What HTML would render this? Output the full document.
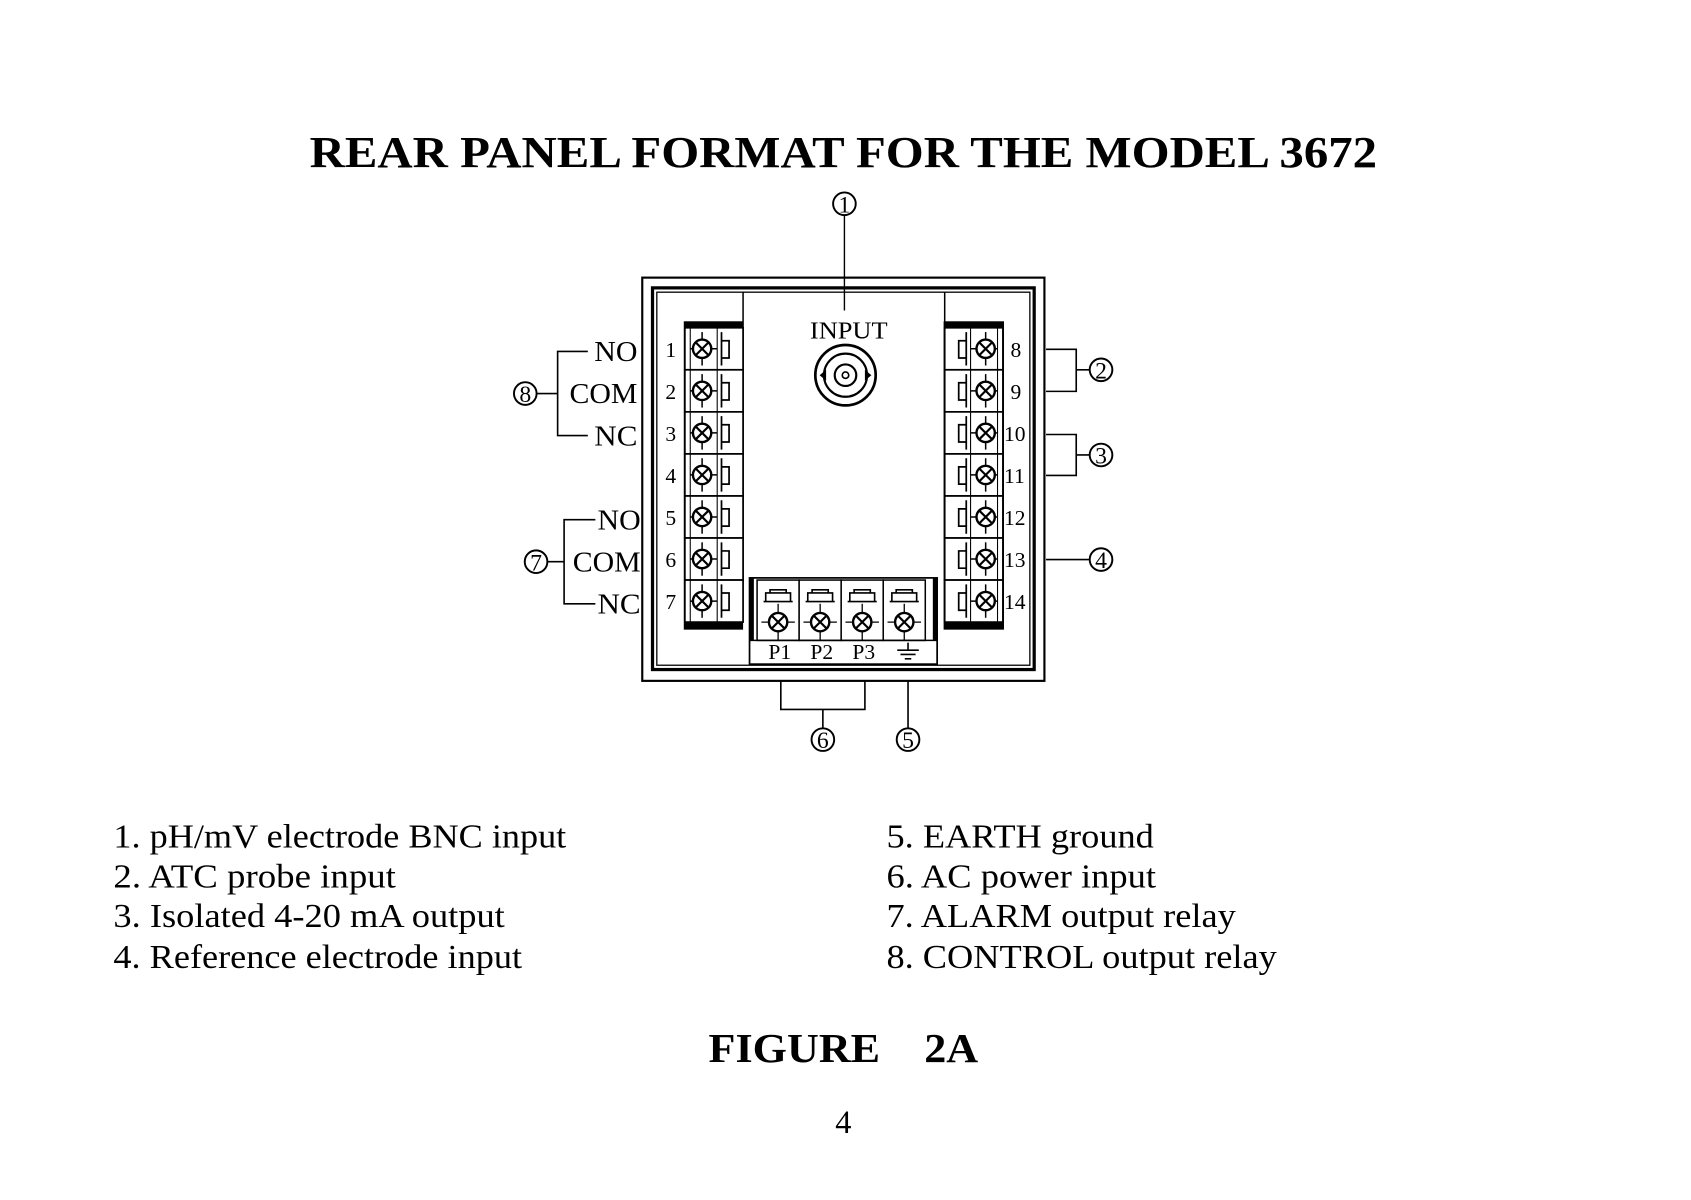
<!DOCTYPE html>
<html><head><meta charset="utf-8"><style>
html,body{margin:0;padding:0;background:#fff;}
svg{display:block}
text{font-family:"Liberation Serif",serif;fill:#000}
</style></head><body>
<svg width="1691" height="1200" viewBox="0 0 1568 1113" xmlns="http://www.w3.org/2000/svg">
<defs>
<g id="scr"><circle cx="0" cy="0" r="8.5" fill="#fff" stroke="#000" stroke-width="2.2"/><path d="M-5.5,-5.5L5.5,5.5M5.5,-5.5L-5.5,5.5" stroke="#000" stroke-width="2"/></g>
<g id="lc"><rect x="0" y="0" width="54" height="39" fill="#fff" stroke="#000" stroke-width="1.6"/>
<line x1="5" y1="0" x2="5" y2="39" stroke="#000" stroke-width="1"/>
<line x1="30" y1="0" x2="30" y2="39" stroke="#000" stroke-width="1"/>
<line x1="5" y1="19.5" x2="30" y2="19.5" stroke="#000" stroke-width="1.4"/>
<line x1="16" y1="4" x2="16" y2="35" stroke="#000" stroke-width="1.4"/>
<use href="#scr" x="16" y="19.5"/>
<path d="M34,4 V35 M34,12 H41 V28 H34" fill="none" stroke="#000" stroke-width="1.6"/></g>
<g id="rc"><rect x="0" y="0" width="54" height="39" fill="#fff" stroke="#000" stroke-width="1.6"/>
<line x1="49" y1="0" x2="49" y2="39" stroke="#000" stroke-width="1"/>
<line x1="24" y1="0" x2="24" y2="39" stroke="#000" stroke-width="1"/>
<line x1="24" y1="19.5" x2="49" y2="19.5" stroke="#000" stroke-width="1.4"/>
<line x1="38" y1="4" x2="38" y2="35" stroke="#000" stroke-width="1.4"/>
<use href="#scr" x="38" y="19.5"/>
<path d="M20,4 V35 M20,12 H13 V28 H20" fill="none" stroke="#000" stroke-width="1.6"/></g>
<g id="bc"><rect x="0" y="0" width="39" height="56" fill="#fff" stroke="#000" stroke-width="1.4"/>
<path d="M6,20 H33 M8,20 V12 H31 V20 M12,12 V9 H27 V12" fill="none" stroke="#000" stroke-width="1.5"/>
<line x1="4" y1="39" x2="35" y2="39" stroke="#000" stroke-width="1.2"/>
<line x1="19.5" y1="22" x2="19.5" y2="56" stroke="#000" stroke-width="1.2"/>
<use href="#scr" x="19.5" y="39"/></g>
<g id="cn"><circle r="10.5" fill="#fff" stroke="#000" stroke-width="1.8"/></g>
</defs>

<text x="287" y="155" font-size="41" font-weight="bold" textLength="990" lengthAdjust="spacingAndGlyphs">REAR PANEL FORMAT FOR THE MODEL 3672</text>

<rect x="595.5" y="257.5" width="373" height="374" fill="#fff" stroke="#000" stroke-width="2"/>
<rect x="605" y="267" width="354" height="354" fill="none" stroke="#000" stroke-width="3"/>
<rect x="609" y="271" width="346" height="346" fill="none" stroke="#000" stroke-width="1.2"/>
<line x1="689" y1="271" x2="689" y2="540" stroke="#000" stroke-width="1.4"/>
<line x1="876" y1="271" x2="876" y2="540" stroke="#000" stroke-width="1.4"/>

<line x1="783" y1="200" x2="783" y2="288" stroke="#000" stroke-width="1.3"/>
<use href="#cn" x="783" y="189"/><text x="783" y="197" font-size="22" text-anchor="middle">1</text>
<text x="751" y="314" font-size="23" textLength="72" lengthAdjust="spacingAndGlyphs">INPUT</text>
<circle cx="784" cy="348" r="28" fill="#fff" stroke="#000" stroke-width="2.5"/>
<circle cx="784" cy="348" r="20" fill="none" stroke="#000" stroke-width="2"/>
<circle cx="784" cy="348" r="10" fill="none" stroke="#000" stroke-width="2"/>
<circle cx="784" cy="348" r="3" fill="none" stroke="#000" stroke-width="1.5"/>
<path d="M760,348 l6,-5 v10z M808,348 l-6,-5 v10z" fill="#000"/>

<rect x="634" y="298" width="55" height="286" fill="#000"/>
<use href="#lc" x="635" y="304"/><use href="#lc" x="635" y="343"/><use href="#lc" x="635" y="382"/><use href="#lc" x="635" y="421"/><use href="#lc" x="635" y="460"/><use href="#lc" x="635" y="499"/><use href="#lc" x="635" y="538"/>
<g font-size="20" text-anchor="middle">
<text x="622" y="331">1</text><text x="622" y="370">2</text><text x="622" y="409">3</text><text x="622" y="448">4</text><text x="622" y="487">5</text><text x="622" y="526">6</text><text x="622" y="565">7</text>
</g>
<rect x="875" y="298" width="56" height="286" fill="#000"/>
<use href="#rc" x="876" y="304"/><use href="#rc" x="876" y="343"/><use href="#rc" x="876" y="382"/><use href="#rc" x="876" y="421"/><use href="#rc" x="876" y="460"/><use href="#rc" x="876" y="499"/><use href="#rc" x="876" y="538"/>
<g font-size="20">
<text x="937" y="331">8</text><text x="937" y="370">9</text><text x="931" y="409">10</text><text x="931" y="448">11</text><text x="931" y="487">12</text><text x="931" y="526">13</text><text x="931" y="565">14</text>
</g>

<rect x="695" y="536" width="174" height="80" fill="#fff" stroke="#000" stroke-width="1.6"/>
<rect x="695" y="536" width="4" height="58" fill="#000"/><rect x="865" y="536" width="4" height="58" fill="#000"/>
<use href="#bc" x="702" y="538"/><use href="#bc" x="741" y="538"/><use href="#bc" x="780" y="538"/><use href="#bc" x="819" y="538"/>
<line x1="695" y1="594" x2="869" y2="594" stroke="#000" stroke-width="1.4"/>
<g font-size="20" text-anchor="middle"><text x="723" y="611">P1</text><text x="762" y="611">P2</text><text x="801" y="611">P3</text></g>
<path d="M842,596 V603 M832,603 H852 M835,607 H849 M839,611 H845" stroke="#000" stroke-width="1.5"/>

<g font-size="26">
<text x="551" y="335" textLength="40" lengthAdjust="spacingAndGlyphs">NO</text>
<text x="528" y="374" textLength="63" lengthAdjust="spacingAndGlyphs">COM</text>
<text x="551" y="413" textLength="40" lengthAdjust="spacingAndGlyphs">NC</text>
<text x="554" y="491" textLength="40" lengthAdjust="spacingAndGlyphs">NO</text>
<text x="531" y="530" textLength="63" lengthAdjust="spacingAndGlyphs">COM</text>
<text x="554" y="569" textLength="40" lengthAdjust="spacingAndGlyphs">NC</text>
</g>
<path d="M545,326 H517 V404 H545 M517,365 H498" fill="none" stroke="#000" stroke-width="1.5"/>
<use href="#cn" x="487" y="365"/><text x="487" y="373" font-size="22" text-anchor="middle">8</text>
<path d="M552,482 H523 V560 H552 M523,521 H508" fill="none" stroke="#000" stroke-width="1.5"/>
<use href="#cn" x="497" y="521"/><text x="497" y="529" font-size="22" text-anchor="middle">7</text>

<path d="M970,324 H998 V363 H970 M998,343 H1011" fill="none" stroke="#000" stroke-width="1.5"/>
<use href="#cn" x="1021" y="343"/><text x="1021" y="351" font-size="22" text-anchor="middle">2</text>
<path d="M970,403 H998 V441 H970 M998,422 H1011" fill="none" stroke="#000" stroke-width="1.5"/>
<use href="#cn" x="1021" y="422"/><text x="1021" y="430" font-size="22" text-anchor="middle">3</text>
<path d="M970,519 H1011" stroke="#000" stroke-width="1.5"/>
<use href="#cn" x="1021" y="519"/><text x="1021" y="527" font-size="22" text-anchor="middle">4</text>

<path d="M724,631 V658 H802 V631 M763,658 V675" fill="none" stroke="#000" stroke-width="1.5"/>
<use href="#cn" x="763" y="686"/><text x="763" y="694" font-size="22" text-anchor="middle">6</text>
<path d="M842,631 V675" stroke="#000" stroke-width="1.5"/>
<use href="#cn" x="842" y="686"/><text x="842" y="694" font-size="22" text-anchor="middle">5</text>

<g font-size="31">
<text x="105" y="786" textLength="420" lengthAdjust="spacingAndGlyphs">1. pH/mV electrode BNC input</text>
<text x="105" y="823" textLength="262" lengthAdjust="spacingAndGlyphs">2. ATC probe input</text>
<text x="105" y="860" textLength="363" lengthAdjust="spacingAndGlyphs">3. Isolated 4-20 mA output</text>
<text x="105" y="898" textLength="379" lengthAdjust="spacingAndGlyphs">4. Reference electrode input</text>
<text x="822" y="786" textLength="248" lengthAdjust="spacingAndGlyphs">5. EARTH ground</text>
<text x="822" y="823" textLength="250" lengthAdjust="spacingAndGlyphs">6. AC power input</text>
<text x="822" y="860" textLength="324" lengthAdjust="spacingAndGlyphs">7. ALARM output relay</text>
<text x="822" y="898" textLength="362" lengthAdjust="spacingAndGlyphs">8. CONTROL output relay</text>
</g>
<text x="657" y="985" font-size="38" font-weight="bold" textLength="250" lengthAdjust="spacingAndGlyphs" xml:space="preserve">FIGURE    2A</text>
<text x="782" y="1051" font-size="30" text-anchor="middle">4</text>
</svg>
</body></html>
